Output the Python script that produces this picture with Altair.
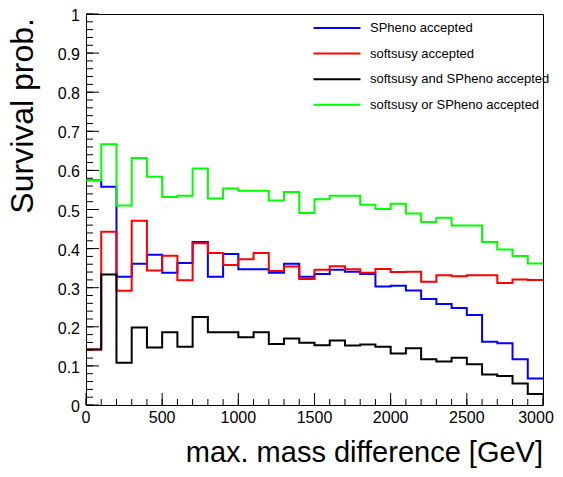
import altair as alt
import pandas as pd

# ---- data ----
bin_low = list(range(0, 3000, 100))   # lower bin edges [GeV]
x_max = 3000

series_names = [
    "SPheno accepted",
    "softsusy accepted",
    "softsusy and SPheno accepted",
    "softsusy or SPheno accepted",
]
series_colors = ["#0000ff", "#ff0000", "#000000", "#00ff00"]

spheno = [0.575, 0.558, 0.328, 0.361, 0.384, 0.338, 0.363, 0.417, 0.328, 0.386,
          0.347, 0.347, 0.338, 0.361, 0.328, 0.335, 0.346, 0.341, 0.335, 0.303,
          0.305, 0.293, 0.271, 0.258, 0.248, 0.230, 0.162, 0.158, 0.117, 0.068]
softsusy = [0.142, 0.443, 0.292, 0.471, 0.344, 0.382, 0.319, 0.414, 0.389, 0.358,
            0.373, 0.389, 0.343, 0.354, 0.322, 0.346, 0.355, 0.347, 0.338, 0.348,
            0.340, 0.341, 0.315, 0.332, 0.329, 0.332, 0.332, 0.312, 0.321, 0.320]
both = [0.142, 0.334, 0.108, 0.198, 0.147, 0.186, 0.149, 0.225, 0.186, 0.186,
        0.173, 0.186, 0.156, 0.170, 0.159, 0.153, 0.165, 0.152, 0.155, 0.149,
        0.132, 0.145, 0.117, 0.111, 0.121, 0.104, 0.078, 0.074, 0.055, 0.028]
either = [0.575, 0.667, 0.510, 0.632, 0.584, 0.532, 0.535, 0.605, 0.528, 0.554,
          0.548, 0.548, 0.523, 0.545, 0.491, 0.526, 0.535, 0.535, 0.512, 0.501,
          0.515, 0.490, 0.468, 0.479, 0.459, 0.459, 0.417, 0.398, 0.381, 0.362]

x_major = [0, 500, 1000, 1500, 2000, 2500, 3000]
x_labels = ["0", "500", "1000", "1500", "2000", "2500", "3000"]
x_minor = list(range(0, 3001, 100))
y_major = [round(i * 0.1, 1) for i in range(11)]
y_labels = ["0", "0.1", "0.2", "0.3", "0.4", "0.5", "0.6", "0.7", "0.8", "0.9", "1"]
y_minor = [round(i * 0.02, 2) for i in range(51)]
x_title = "max. mass difference [GeV]"
y_title = "Survival prob."

# ---- build tables ----
rows = []
for s_i, (name, vals) in enumerate(zip(series_names, [spheno, softsusy, both, either])):
    for e, v in zip(bin_low + [x_max], vals + [vals[-1]]):
        rows.append({"series": name, "x": e, "y": v, "k": s_i})
df = pd.DataFrame(rows)

x_maj_df = pd.DataFrame({"x": x_major, "t": x_labels})
x_min_df = pd.DataFrame({"x": x_minor})
y_maj_df = pd.DataFrame({"y": y_major, "t": y_labels})
y_min_df = pd.DataFrame({"y": y_minor})
xt_title_df = pd.DataFrame({"t": [x_title]})
yt_title_df = pd.DataFrame({"t": [y_title]})

W, H = 457, 391
FONT = "Liberation Sans"

xscale = alt.Scale(domain=[0, 3000], nice=False, zero=False)
yscale = alt.Scale(domain=[0, 1], nice=False, zero=False)

lines = alt.Chart(df).mark_line(interpolate="step-after", strokeWidth=2).encode(
    x=alt.X("x:Q", scale=xscale, axis=None),
    y=alt.Y("y:Q", scale=yscale, axis=None),
    color=alt.Color("series:N", sort=series_names,
                    scale=alt.Scale(domain=series_names, range=series_colors),
                    legend=alt.Legend(title=None, orient="none", legendX=244, legendY=7,
                                      symbolType="M-4,0H4", symbolSize=138,
                                      symbolStrokeWidth=2, labelFontSize=13,
                                      labelFont=FONT, labelColor="black", labelOffset=26,
                                      rowPadding=11.6, padding=0, labelLimit=400)),
    detail="k:N",
)

# inward ticks (ROOT style)
xt_major = alt.Chart(x_maj_df).mark_rule(color="black", strokeWidth=1).encode(
    x=alt.X("x:Q", scale=xscale, axis=None), y=alt.value(H), y2=alt.value(H - 12))
xt_minor = alt.Chart(x_min_df).mark_rule(color="black", strokeWidth=1).encode(
    x=alt.X("x:Q", scale=xscale, axis=None), y=alt.value(H), y2=alt.value(H - 6))
yt_major = alt.Chart(y_maj_df).mark_rule(color="black", strokeWidth=1).encode(
    y=alt.Y("y:Q", scale=yscale, axis=None), x=alt.value(0), x2=alt.value(13))
yt_minor = alt.Chart(y_min_df).mark_rule(color="black", strokeWidth=1).encode(
    y=alt.Y("y:Q", scale=yscale, axis=None), x=alt.value(0), x2=alt.value(7))

# tick labels
x_lab_main = alt.Chart(x_maj_df).transform_filter("datum.x < 3000").mark_text(
    align="center", baseline="top", fontSize=16, font=FONT, color="black").encode(
    x=alt.X("x:Q", scale=xscale, axis=None), y=alt.value(H + 5), text="t:N")
x_lab_end = alt.Chart(x_maj_df).transform_filter("datum.x >= 3000").mark_text(
    align="center", baseline="top", fontSize=16, font=FONT, color="black", dx=-7).encode(
    x=alt.X("x:Q", scale=xscale, axis=None), y=alt.value(H + 5), text="t:N")
y_lab = alt.Chart(y_maj_df).mark_text(
    align="right", baseline="middle", fontSize=16, font=FONT, color="black", dy=2).encode(
    y=alt.Y("y:Q", scale=yscale, axis=None), x=alt.value(-6), text="t:N")

# axis titles
x_tit = alt.Chart(xt_title_df).mark_text(
    align="right", baseline="alphabetic", fontSize=29, font=FONT, color="black").encode(
    x=alt.value(W), y=alt.value(H + 57), text="t:N")
y_tit = alt.Chart(yt_title_df).mark_text(
    align="right", baseline="alphabetic", fontSize=32, font=FONT, color="black",
    angle=270).encode(
    x=alt.value(-53), y=alt.value(4), text="t:N")

chart = alt.layer(
    xt_minor, xt_major, yt_minor, yt_major, lines,
    x_lab_main, x_lab_end, y_lab, x_tit, y_tit,
).properties(
    width=W, height=H,
    padding={"left": 78, "top": 6, "right": 12, "bottom": 64},
    autosize=alt.AutoSizeParams(type="none"),
    background="white",
).configure_view(stroke="black", strokeWidth=1)

chart.save("out.html", embed_options={"renderer": "svg", "actions": False})
